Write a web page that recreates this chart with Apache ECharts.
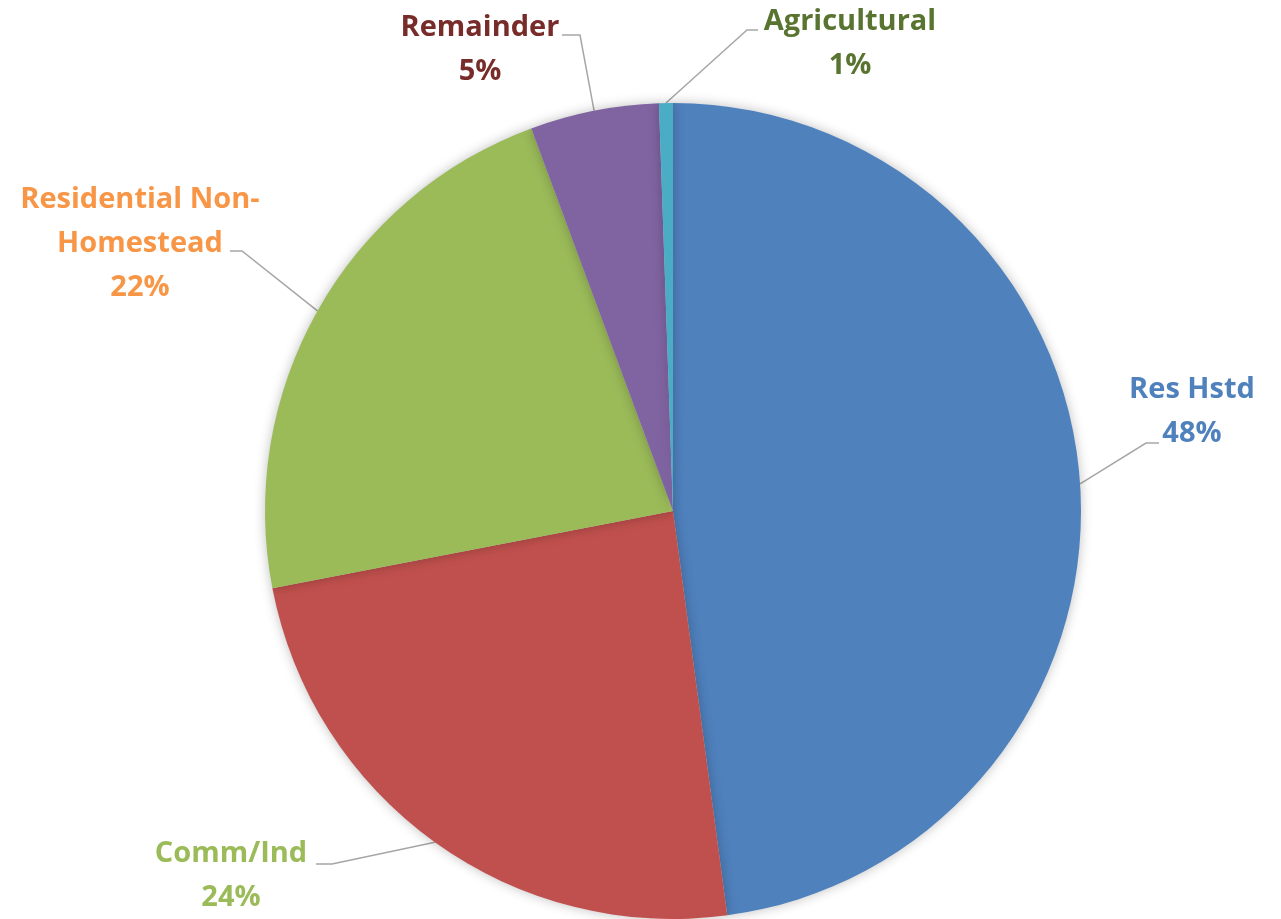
<!DOCTYPE html>
<html><head><meta charset="utf-8">
<script src="https://cdn.jsdelivr.net/npm/echarts@6/dist/echarts.min.js"></script>
<style>html,body{margin:0;padding:0;background:#fff}#c{width:1281px;height:919px}</style>
</head><body><div id="c"></div>
<script>
const categories = ['Res Hstd', 'Comm/Ind', 'Residential Non-\nHomestead', 'Remainder', 'Agricultural'];
const values = [47.9, 24.1, 22.4, 5.1, 0.55];
const percentLabels = ['48%', '24%', '22%', '5%', '1%'];

const sliceColors = ['#4F81BD', '#C0504D', '#9BBB59', '#8064A2', '#4BACC6'];
const labelColors = ['#4F81BD', '#9BBB59', '#F79646', '#772C2A', '#587430'];
// label block centres and leader-line bend/end points (layout only)
const labelPos = [[1192, 412], [231, 876], [140, 244], [480, 50], [850, 44]];
const leaderBend = [[[1146, 443], [1159, 443]], [[332, 864], [316, 864]], [[242, 251], [230, 251]], [[580, 35], [562, 35]], [[747, 30], [758, 30]]];

const chart = echarts.init(document.getElementById('c'), null, {renderer: 'canvas'});
chart.setOption({
  animation: false,
  backgroundColor: '#fff',
  series: [{
    type: 'pie',
    center: [673, 511],
    radius: 408,
    startAngle: 90,
    clockwise: true,
    avoidLabelOverlap: false,
    data: categories.map((c, i) => ({
      name: c, value: values[i],
      itemStyle: {color: sliceColors[i]},
      label: {color: labelColors[i]}
    })),
    itemStyle: {borderWidth: 0, shadowBlur: 12, shadowColor: 'rgba(0,0,0,0.25)'},
    label: {
      show: true, position: 'outside',
      fontFamily: 'Open Sans', fontWeight: 'bold', fontSize: 29, lineHeight: 44,
      align: 'center',
      formatter: p => p.name + '\n' + percentLabels[p.dataIndex]
    },
    labelLine: {show: true, length: 20, length2: 10, lineStyle: {color: '#A6A6A6', width: 1.5}},
    labelLayout: function (params) {
      const i = params.dataIndex;
      const start = params.labelLinePoints ? params.labelLinePoints[0] : null;
      return {
        x: labelPos[i][0], y: labelPos[i][1],
        align: 'center', verticalAlign: 'middle',
        labelLinePoints: start ? [start, leaderBend[i][0], leaderBend[i][1]] : undefined
      };
    }
  }]
});
</script></body></html>
